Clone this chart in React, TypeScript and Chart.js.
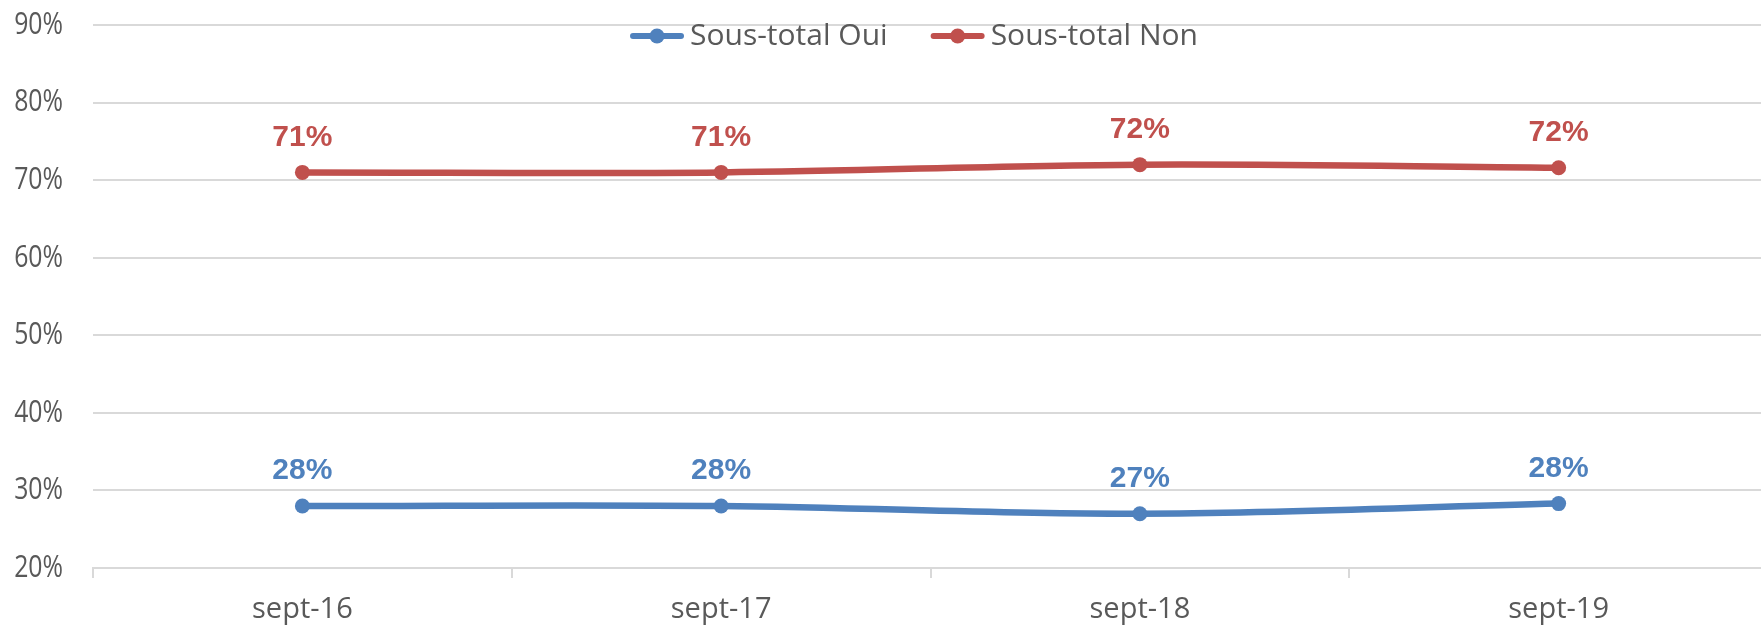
import React, { useEffect, useRef } from 'react';
import { Chart, registerables } from 'chart.js';

Chart.register(...registerables);

// ---- Data ----
const categories = ['sept-16', 'sept-17', 'sept-18', 'sept-19'];
const seriesNames = ['Sous-total Oui', 'Sous-total Non'];
const ouiValues = [28.0, 28.0, 27.0, 28.3];
const nonValues = [71.0, 71.0, 72.0, 71.6];
const yMin = 20;
const yMax = 90;
const yStep = 10;

// ---- Style ----
const BLUE = '#4F81BD';
const RED = '#C0504D';
const TEXT = '#595959';
const GRID = '#D9D9D9';
const CANVAS_W = 1800;
const CANVAS_H = 625;
const LEGEND_CX = 914;
const LEGEND_Y = 36;
const Y_LABEL_RIGHT = 63;
const Y_LABEL_SCALE = 0.8;
const FONT = '"Open Sans", "Liberation Sans", sans-serif';

const yLabelPlugin = {
  id: 'yLabels',
  afterDraw(chart: any) {
    const ctx = chart.ctx;
    const scale = chart.scales.y;
    ctx.save();
    ctx.font = '31px ' + FONT;
    ctx.fillStyle = TEXT;
    ctx.textAlign = 'right';
    ctx.textBaseline = 'middle';
    scale.ticks.forEach((t: any) => {
      const y = scale.getPixelForValue(t.value);
      ctx.save();
      ctx.translate(Y_LABEL_RIGHT, y);
      ctx.scale(Y_LABEL_SCALE, 1);
      ctx.fillText(t.value + '%', 0, 0);
      ctx.restore();
    });
    ctx.restore();
  },
};

const dataLabelPlugin = {
  id: 'dataLabels',
  afterDatasetsDraw(chart: any) {
    const ctx = chart.ctx;
    ctx.save();
    ctx.font = 'bold 30px "Liberation Sans", sans-serif';
    ctx.textAlign = 'center';
    ctx.textBaseline = 'middle';
    chart.data.datasets.forEach((ds: any, i: number) => {
      const meta = chart.getDatasetMeta(i);
      ctx.fillStyle = ds.borderColor;
      meta.data.forEach((pt: any, j: number) => {
        ctx.fillText(Math.round(ds.data[j]) + '%', pt.x, pt.y - 35);
      });
    });
    ctx.restore();
  },
};

const legendPlugin = {
  id: 'topLegend',
  afterDraw(chart: any) {
    const ctx = chart.ctx;
    ctx.save();
    ctx.font = '30px ' + FONT;
    const lineLen = 54;
    const gapText = 6;
    const gapItem = 43;
    const items = chart.data.datasets.map((ds: any) => ({
      label: ds.label,
      color: ds.borderColor,
      tw: ctx.measureText(ds.label).width,
    }));
    const total =
      items.reduce((s: number, it: any) => s + lineLen + gapText + it.tw, 0) +
      gapItem * (items.length - 1);
    let x = LEGEND_CX - total / 2;
    const y = LEGEND_Y;
    items.forEach((it: any) => {
      ctx.strokeStyle = it.color;
      ctx.lineWidth = 6;
      ctx.lineCap = 'round';
      ctx.beginPath();
      ctx.moveTo(x + 3, y);
      ctx.lineTo(x + lineLen - 3, y);
      ctx.stroke();
      ctx.fillStyle = it.color;
      ctx.beginPath();
      ctx.arc(x + lineLen / 2, y, 7.5, 0, Math.PI * 2);
      ctx.fill();
      ctx.fillStyle = TEXT;
      ctx.textAlign = 'left';
      ctx.textBaseline = 'middle';
      ctx.fillText(it.label, x + lineLen + gapText, y);
      x += lineLen + gapText + it.tw + gapItem;
    });
    ctx.restore();
  },
};

export default function App() {
  const canvasRef = useRef<HTMLCanvasElement | null>(null);

  useEffect(() => {
    if (!canvasRef.current) return;
    const chart = new Chart(canvasRef.current, {
      type: 'line',
      data: {
        labels: categories,
        datasets: [
          {
            label: seriesNames[0],
            data: ouiValues,
            borderColor: BLUE,
            backgroundColor: BLUE,
            borderWidth: 6.5,
            pointRadius: 7.5,
            pointHoverRadius: 7.5,
            pointBackgroundColor: BLUE,
            pointBorderWidth: 0,
            tension: 0.35,
          },
          {
            label: seriesNames[1],
            data: nonValues,
            borderColor: RED,
            backgroundColor: RED,
            borderWidth: 6.5,
            pointRadius: 7.5,
            pointHoverRadius: 7.5,
            pointBackgroundColor: RED,
            pointBorderWidth: 0,
            tension: 0.35,
          },
        ],
      },
      options: {
        responsive: false,
        animation: false,
        layout: { padding: { top: 25, right: 32, left: 0, bottom: 0 } },
        plugins: {
          legend: { display: false },
          tooltip: { enabled: false },
        },
        scales: {
          x: {
            offset: true,
            grid: {
              offset: true,
              drawOnChartArea: false,
              drawTicks: true,
              tickLength: 10,
              color: GRID,
              lineWidth: 2,
            },
            border: { display: true, color: GRID, width: 2 },
            ticks: {
              color: TEXT,
              font: { family: FONT, size: 29 },
              padding: 14,
              maxRotation: 0,
            },
            afterFit(scale: any) {
              scale.height = 57;
            },
          },
          y: {
            min: yMin,
            max: yMax,
            grid: { color: GRID, lineWidth: 2, drawTicks: false },
            border: { display: false },
            ticks: {
              stepSize: yStep,
              display: false,
            },
            afterFit(scale: any) {
              scale.width = 93;
            },
          },
        },
      },
      plugins: [dataLabelPlugin, legendPlugin, yLabelPlugin],
    });
    return () => chart.destroy();
  }, []);

  return (
    <div
      style={{
        position: 'fixed',
        left: 0,
        top: 0,
        width: 1761,
        height: 625,
        overflow: 'hidden',
        background: '#fff',
      }}
    >
      <canvas
        ref={canvasRef}
        width={CANVAS_W}
        height={CANVAS_H}
        style={{ display: 'block', width: CANVAS_W, height: CANVAS_H }}
      />
    </div>
  );
}
